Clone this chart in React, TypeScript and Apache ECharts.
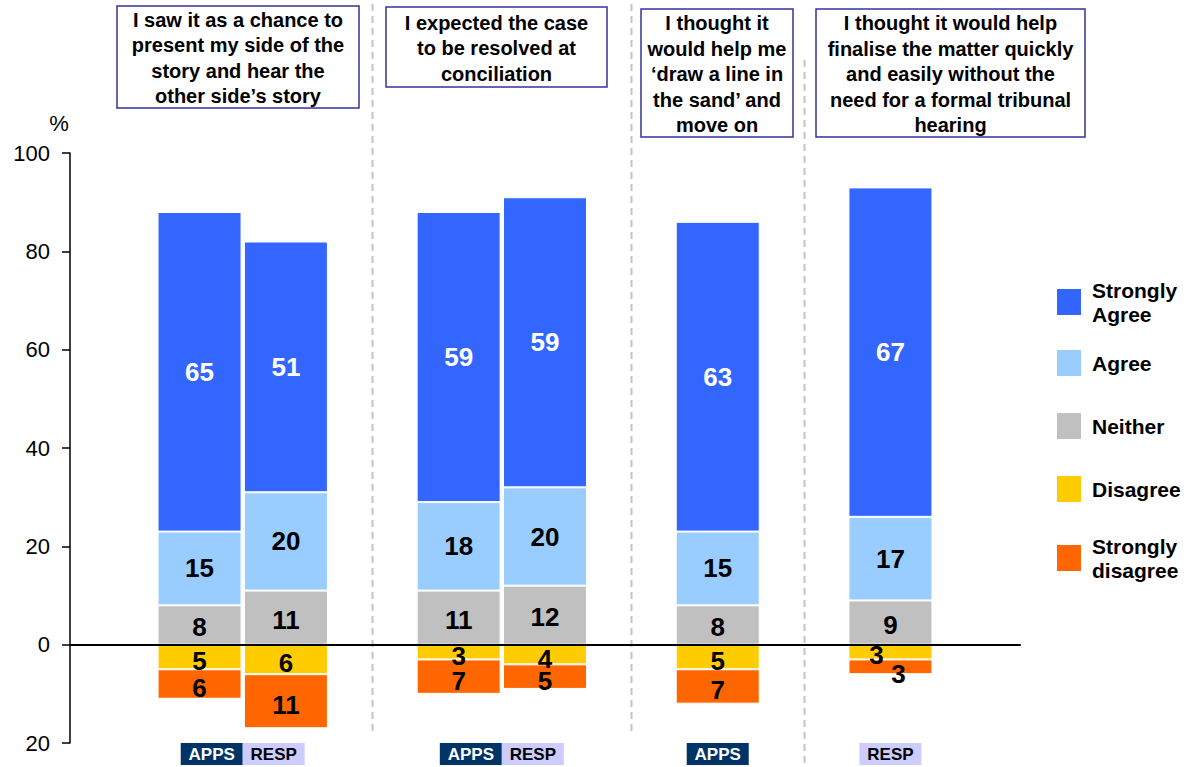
import React, { useEffect, useRef } from "react";
import * as echarts from "echarts";

// ---- data ----
// x slots: '' = padding, '|' = separator slot, APPS / RESP = bars
const slots = ["", "APPS", "RESP", "|", "APPS", "RESP", "|", "APPS", "|", "RESP", ""];
const barSlots = [1, 2, 4, 5, 7, 9];
const groupSlots = [[1, 2], [4, 5], [7], [9]];

const seriesNames = ["Strongly Agree", "Agree", "Neither", "Disagree", "Strongly disagree"];
const stronglyAgree = [65, 51, 59, 59, 63, 67];
const agree = [15, 20, 18, 20, 15, 17];
const neither = [8, 11, 11, 12, 8, 9];
const disagree = [5, 6, 3, 4, 5, 3];
const stronglyDisagree = [6, 11, 7, 5, 7, 3];

const yTicks = [-20, 0, 20, 40, 60, 80, 100];

const questions = [
  "I saw it as a chance to\npresent my side of the\nstory and hear the\nother side\u2019s story",
  "I expected the case\nto be resolved at\nconciliation",
  "I thought it\nwould help me\n\u2018draw a line in\nthe sand\u2019 and\nmove on",
  "I thought it would help\nfinalise the matter quickly\nand easily without the\nneed for a formal tribunal\nhearing",
];

// ---- styles ----
const FONT = '"Liberation Sans", Arial, Helvetica, sans-serif';
const colors = ["#3366FF", "#99CCFF", "#C0C0C0", "#FFCC00", "#FF6600"];
const headerBoxes = [
  { x: 117, y: 6, w: 242, h: 102 },
  { x: 386, y: 7, w: 221, h: 80 },
  { x: 641, y: 9, w: 152, h: 128 },
  { x: 816, y: 9, w: 269, h: 128 },
];
const sepExtents = [
  [4, 735],
  [4, 735],
  [60, 767],
];
const legendTops = [278, 350, 413, 476, 534];

function fullRow(vals: number[], sign: number, overrides?: Record<number, any>) {
  const row: any[] = slots.map(() => "-");
  barSlots.forEach((s, i) => {
    const v = sign * vals[i];
    row[s] = overrides && overrides[i] ? { value: v, label: overrides[i] } : v;
  });
  return row;
}

export default function App() {
  const ref = useRef<HTMLDivElement>(null);
  useEffect(() => {
    if (!ref.current) return;
    const chart = echarts.init(ref.current, null, { renderer: "svg" });
    const labelBase = {
      show: true,
      position: "inside",
      fontFamily: FONT,
      fontSize: 26,
      fontWeight: "bold",
      color: "#000",
      formatter: (p: any) => String(Math.abs(p.value)),
    };
    const mk = (name: string, data: any[], color: string, extraLabel: any = {}) => ({
      name,
      type: "bar",
      stack: "total",
      barWidth: 84,
      data,
      itemStyle: { color, borderColor: "#fff", borderWidth: 1 },
      label: { ...labelBase, ...extraLabel },
      z: 2,
    });
    const series = [
      mk(seriesNames[2], fullRow(neither, 1), colors[2], { offset: [0, 2] }),
      mk(seriesNames[1], fullRow(agree, 1), colors[1]),
      mk(seriesNames[0], fullRow(stronglyAgree, 1), colors[0], { color: "#fff" }),
      mk(seriesNames[3], fullRow(disagree, -1, { 5: { offset: [-14, 3] } }), colors[3], { offset: [0, 4] }),
      mk(seriesNames[4], fullRow(stronglyDisagree, -1, { 5: { offset: [8, 7] } }), colors[4], { offset: [0, 4] }),
    ];
    const legends = seriesNames.map((n, i) => ({
      data: [n],
      orient: "vertical",
      left: 1057,
      top: legendTops[i],
      padding: 0,
      icon: "rect",
      itemWidth: 24,
      itemHeight: 26,
      selectedMode: false,
      itemStyle: { borderWidth: 0 },
      formatter: (name: string) => name.replace(" ", "\n"),
      textStyle: {
        fontFamily: FONT,
        fontSize: 21,
        fontWeight: "bold",
        color: "#000",
        lineHeight: 24,
        padding: [0, 0, 0, 6],
      },
    }));
    chart.setOption({
      animation: false,
      grid: { left: 70, right: 168, top: 153, bottom: 24, containLabel: false },
      legend: legends,
      xAxis: {
        type: "category",
        data: slots.map((s, i) => s + "#" + i),
        z: 10,
        axisLine: { show: true, onZero: true, lineStyle: { color: "#000", width: 2 } },
        axisTick: { show: false },
        axisLabel: { show: false },
        splitLine: { show: false },
      },
      yAxis: {
        type: "value",
        min: yTicks[0],
        max: yTicks[yTicks.length - 1],
        interval: 20,
        axisLine: { show: true, lineStyle: { color: "#000", width: 1.5 } },
        axisTick: { show: true, length: 8, lineStyle: { color: "#000", width: 1.5 } },
        axisLabel: {
          margin: 20,
          fontFamily: FONT,
          fontSize: 22,
          color: "#000",
          formatter: (v: number) => String(Math.abs(v)),
        },
        splitLine: { show: false },
      },
      series,
    });

    const px = (i: number) => chart.convertToPixel({ xAxisIndex: 0 }, i) as number;
    const graphics: any[] = [];
    // separators
    const sepIdx = slots.map((s, i) => (s === "|" ? i : -1)).filter((i) => i >= 0);
    sepIdx.forEach((s, k) => {
      const x = Math.round(px(s)) + 0.5;
      graphics.push({
        type: "line",
        shape: { x1: x, y1: sepExtents[k][0], x2: x, y2: sepExtents[k][1] },
        style: { stroke: "#C4C4C4", lineWidth: 2, lineDash: [7, 5] },
        z: 0,
      });
    });
    // header boxes
    questions.forEach((q, i) => {
      const b = headerBoxes[i];
      graphics.push({
        type: "rect",
        shape: { x: b.x, y: b.y, width: b.w, height: b.h },
        style: { fill: "#fff", stroke: "#333399", lineWidth: 1.5 },
        z: 5,
      });
      graphics.push({
        type: "text",
        x: b.x + b.w / 2,
        y: b.y + b.h / 2 + 1,
        style: {
          text: q,
          fontFamily: FONT,
          fontSize: 20,
          fontWeight: "bold",
          lineHeight: 25.5,
          fill: "#000",
          align: "center",
          verticalAlign: "middle",
        },
        z: 6,
      });
    });
    // bottom respondent labels
    groupSlots.forEach((g) => {
      const centers = g.map(px);
      const mid = centers.reduce((a, b) => a + b, 0) / centers.length;
      g.forEach((s, j) => {
        const w = 62;
        let x0: number;
        if (g.length === 1) x0 = mid - w / 2;
        else x0 = j === 0 ? mid - w : mid;
        const isApps = slots[s] === "APPS";
        graphics.push({
          type: "rect",
          shape: { x: x0, y: 743, width: w, height: 22 },
          style: { fill: isApps ? "#003366" : "#CCCCFF" },
          z: 5,
        });
        graphics.push({
          type: "text",
          x: x0 + w / 2,
          y: 754,
          style: {
            text: slots[s],
            fontFamily: FONT,
            fontSize: 17,
            fontWeight: "bold",
            fill: isApps ? "#fff" : "#000",
            align: "center",
            verticalAlign: "middle",
          },
          z: 6,
        });
      });
    });
    // % unit label
    graphics.push({
      type: "text",
      x: 59,
      y: 123,
      style: {
        text: "%",
        fontFamily: FONT,
        fontSize: 22,
        fill: "#000",
        align: "center",
        verticalAlign: "middle",
      },
    });
    chart.setOption({ graphic: graphics });
    return () => chart.dispose();
  }, []);
  return (
    <div
      ref={ref}
      style={{ position: "fixed", left: 0, top: 0, width: 1188, height: 767, background: "#fff" }}
    />
  );
}
